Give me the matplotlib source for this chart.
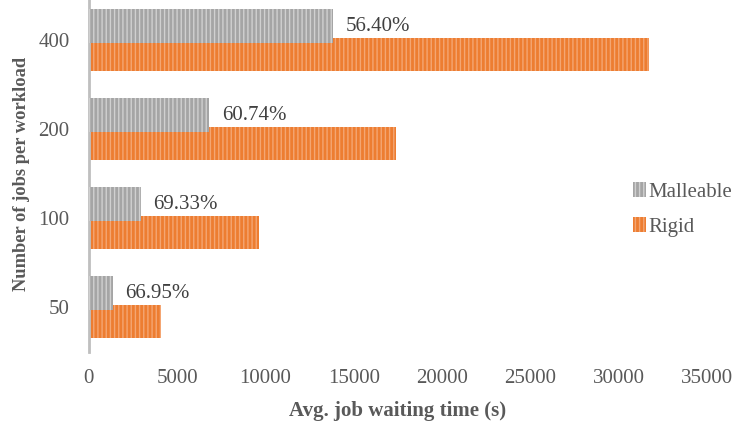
from matplotlib import pyplot as plt
import numpy as np

# jobs per workload, top to bottom in the chart
categories = ['400', '200', '100', '50']
rigid = [31700, 17380, 9640, 4060]
malleable = [13820, 6820, 2960, 1340]
reductions = ['56.40%', '60.74%', '69.33%', '66.95%']

plt.rcParams['font.family'] = ['Liberation Serif', 'DejaVu Serif']
plt.rcParams['hatch.linewidth'] = 1.0
txt = '#595959'

fig = plt.figure(figsize=(7.35, 4.23), dpi=100)
ax = fig.add_axes([0.121, 0.168, 0.841, 0.842])

y = np.arange(len(categories))
h = 0.375
off = 0.16

ax.barh(y + off, rigid, height=h, color='#ed7d31', edgecolor='#f4a673',
        hatch='||||', linewidth=0, label='Rigid', zorder=2)
ax.barh(y - off, malleable, height=h, color='#a5a5a5', edgecolor='#d0d0d0',
        hatch='||||', linewidth=0, label='Malleable', zorder=3)

for i in range(len(categories)):
    ax.text(malleable[i] + 700, y[i] - off, reductions[i], va='center', ha='left',
            fontsize=15, color='#404040')

ax.set_ylim(3.5, -0.5)
ax.set_xlim(0, 35000)
ax.set_xticks(range(0, 35001, 5000))
ax.set_yticks(y)
ax.set_yticklabels(categories)
ax.tick_params(axis='both', length=0, labelsize=15, labelcolor=txt)
ax.tick_params(axis='x', pad=12)
ax.tick_params(axis='y', pad=14)
for s in ['top', 'right', 'bottom']:
    ax.spines[s].set_visible(False)
ax.spines['left'].set_color('#bfbfbf')
ax.spines['left'].set_linewidth(2)

ax.set_xlabel('Avg. job waiting time (s)', fontsize=15, fontweight='bold', color=txt, labelpad=10)
ax.set_ylabel('Number of jobs per workload', fontsize=13.3, fontweight='bold', color=txt, labelpad=6)

hnd, lab = ax.get_legend_handles_labels()
ax.legend(hnd[::-1], lab[::-1], loc='center left', bbox_to_anchor=(0.85, 0.40), frameon=False,
          fontsize=15, labelcolor=txt, handlelength=0.6, handleheight=0.7,
          handletextpad=0.15, labelspacing=0.75)

plt.savefig('out.png', dpi=100)
